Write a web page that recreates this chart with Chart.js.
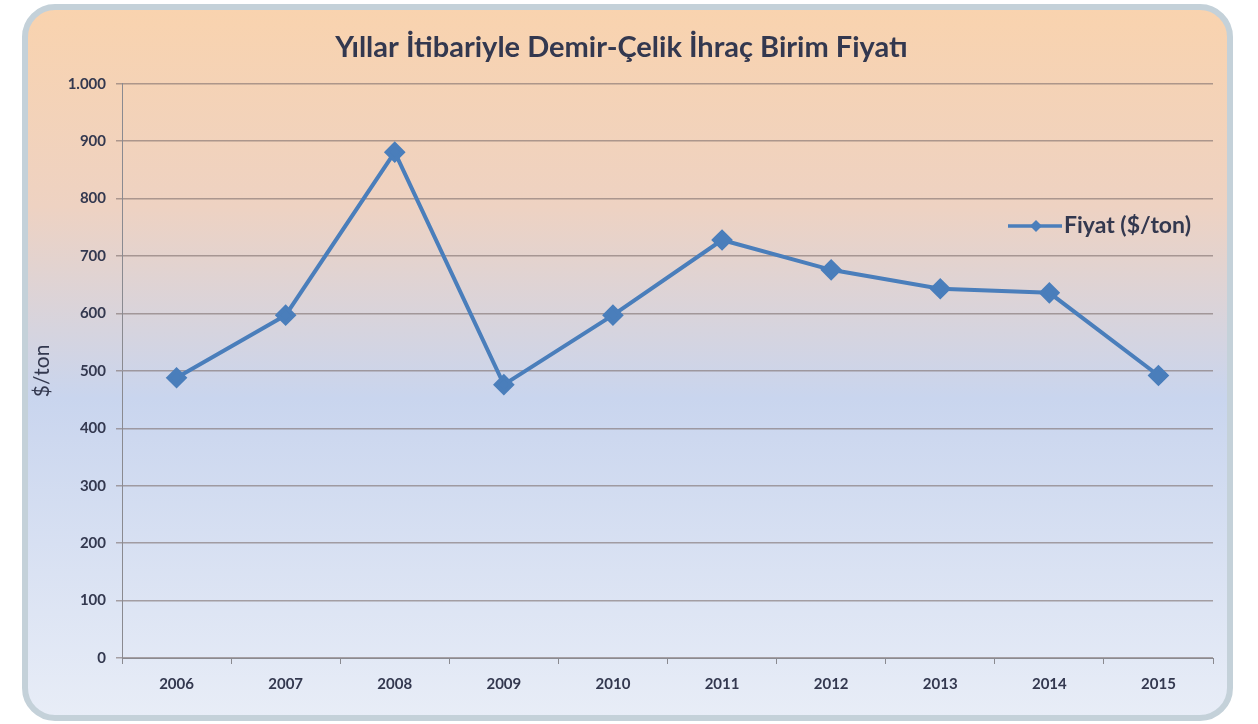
<!DOCTYPE html>
<html>
<head>
<meta charset="utf-8">
<script src="https://cdn.jsdelivr.net/npm/chart.js@4"></script>
<style>
  html, body { margin: 0; padding: 0; background: #fff; }
  #wrap { width: 1258px; height: 724px; }
</style>
</head>
<body>
<div id="wrap"><canvas id="chart" width="1258" height="724"></canvas></div>
<script>
const years = ['2006', '2007', '2008', '2009', '2010', '2011', '2012', '2013', '2014', '2015']
const prices = [488, 597, 881, 476, 597, 728, 676, 643, 636, 492]
const seriesLabel = 'Fiyat ($/ton)'
const titleText = 'Yıllar İtibariyle Demir-Çelik İhraç Birim Fiyatı'
const yTitle = '$/ton'

const lineColor = '#4a7ebb'
const textColor = '#33384f'
const gridColor = 'rgba(125,110,108,0.6)'

// rounded frame with peach -> blue gradient behind the chart
const framePlugin = {
    id: 'frame',
    beforeDraw(chart) {
        const ctx = chart.ctx
        const x = 25, y = 7, w = 1205, h = 711, r = 30
        const grad = ctx.createLinearGradient(0, y, 0, y + h)
        grad.addColorStop(0, '#f9d3ae')
        grad.addColorStop(0.28, '#eed2c2')
        grad.addColorStop(0.55, '#c9d5ee')
        grad.addColorStop(1, '#e8edf7')
        ctx.save()
        ctx.beginPath()
        ctx.roundRect(x, y, w, h, r)
        ctx.fillStyle = grad
        ctx.fill()
        ctx.lineWidth = 6
        ctx.strokeStyle = '#c4d1d9'
        ctx.stroke()
        ctx.restore()
    }
}

// legend drawn inside the plot area, right side
const legendPlugin = {
    id: 'insideLegend',
    afterDraw(chart) {
        const ctx = chart.ctx
        const ds = chart.data.datasets[0]
        const ly = 226
        ctx.save()
        ctx.strokeStyle = ds.borderColor
        ctx.lineWidth = 3.5
        ctx.beginPath()
        ctx.moveTo(1008, ly)
        ctx.lineTo(1062, ly)
        ctx.stroke()
        ctx.fillStyle = ds.backgroundColor
        ctx.beginPath()
        ctx.moveTo(1036, ly - 6)
        ctx.lineTo(1042, ly)
        ctx.lineTo(1036, ly + 6)
        ctx.lineTo(1030, ly)
        ctx.closePath()
        ctx.fill()
        ctx.fillStyle = textColor
        ctx.font = 'bold 23px Lato'
        ctx.textBaseline = 'middle'
        ctx.fillText(ds.label, 1064, ly)
        ctx.restore()
    }
}

new Chart(document.getElementById('chart'), {
    type: 'line',
    data: {
        labels: years,
        datasets: [{
            label: seriesLabel,
            data: prices,
            borderColor: lineColor,
            backgroundColor: lineColor,
            borderWidth: 4,
            pointStyle: 'rectRot',
            pointRadius: 8,
            pointHoverRadius: 8,
            tension: 0
        }]
    },
    options: {
        responsive: false,
        animation: false,
        layout: { padding: { left: 30, right: 45, top: 0, bottom: 0 } },
        plugins: {
            legend: { display: false },
            tooltip: { enabled: false },
            title: {
                display: true,
                text: titleText,
                color: textColor,
                font: { family: 'Lato', size: 29, weight: 'bold' },
                padding: { top: 30, bottom: 19 }
            }
        },
        scales: {
            x: {
                offset: true,
                afterFit(scale) { scale.height = 66 },
                grid: { offset: true, drawOnChartArea: false, drawTicks: true, tickLength: 6, color: '#8a8a90' },
                border: { display: true, color: '#8a8a90', width: 1 },
                ticks: { color: textColor, padding: 11, font: { family: 'Lato', size: 15, weight: 'bold' } }
            },
            y: {
                min: 0,
                max: 1000,
                afterFit(scale) { scale.width = 92 },
                ticks: {
                    stepSize: 100,
                    color: textColor,
                    padding: 10,
                    font: { family: 'Lato', size: 15, weight: 'bold' },
                    callback: v => v.toLocaleString('tr-TR')
                },
                grid: { color: gridColor, lineWidth: 1.5, tickLength: 6 },
                border: { display: true, color: '#8a8a90', width: 1 },
                title: {
                    display: true,
                    text: yTitle,
                    color: textColor,
                    font: { family: 'Lato', size: 21 },
                    padding: { top: 0, bottom: 0 }
                }
            }
        }
    },
    plugins: [framePlugin, legendPlugin]
})
</script>
</body>
</html>
